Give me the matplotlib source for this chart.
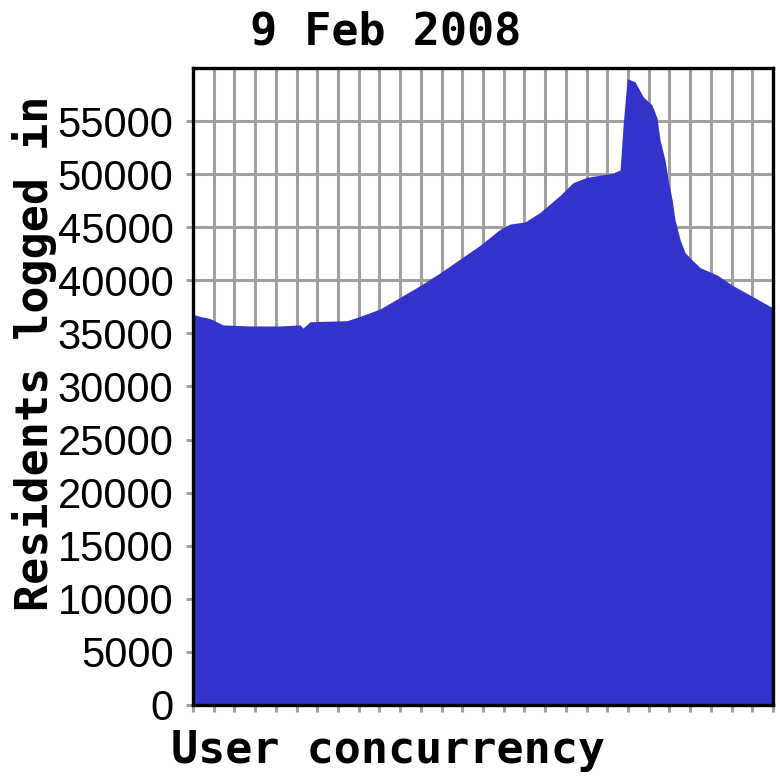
import matplotlib
matplotlib.use("Agg")
import matplotlib.pyplot as plt

# sample positions along the (unlabelled) x axis, one unit per grid column
slots = [0.0, 0.34, 0.82, 1.45, 2.75, 4.20, 5.17, 5.31, 5.65, 7.44, 8.06,
         9.03, 10.00, 10.96, 11.93, 12.89, 13.86, 14.82, 15.31, 16.03, 16.76,
         17.72, 18.35, 19.02, 20.28, 20.62, 20.76, 20.96, 21.34, 21.73, 22.16,
         22.40, 22.55, 22.79, 22.94, 23.13, 23.27, 23.52, 23.76, 24.00, 24.48,
         25.30, 26.07, 26.90, 27.72, 28.0]
residents = [36800, 36600, 36400, 35800, 35700, 35700, 35800, 35500, 36100,
             36200, 36600, 37300, 38400, 39500, 40700, 42000, 43300, 44800,
             45300, 45500, 46400, 48000, 49200, 49700, 50100, 50400, 54500,
             59000, 58700, 57300, 56500, 55300, 53200, 51300, 49400, 47600,
             45700, 43800, 42600, 42100, 41200, 40500, 39500, 38600, 37700,
             37400]

y_ticks = list(range(0, 60000, 5000))
x_ticks = list(range(0, 29))

mono = ["DejaVu Sans Mono"]
sans = ["Liberation Sans", "DejaVu Sans"]

fig = plt.figure(figsize=(7.8, 7.8), dpi=100)
ax = fig.add_axes([0.2474, 0.0962, 0.7436, 0.8166])

ax.fill_between(slots, residents, 0, color="#3333cc", linewidth=0)

ax.set_xlim(0, 28)
ax.set_ylim(0, 60000)
ax.set_xticks(x_ticks)
ax.set_xticklabels([])
ax.set_yticks(y_ticks)
ax.set_yticklabels([str(v) for v in y_ticks], fontfamily=sans, fontsize=30)

ax.set_axisbelow(True)
ax.grid(True, color="#a0a0a0", linewidth=2.2)
ax.tick_params(axis="both", color="#a0a0a0", width=2.2, length=5)
ax.tick_params(axis="y", pad=9)

for sp in ax.spines.values():
    sp.set_linewidth(2.4)
    sp.set_color("black")

fig.text(0.495, 0.959, "9 Feb 2008", ha="center", va="center",
         fontfamily=mono, fontweight="bold", fontsize=32.5)
fig.text(0.497, 0.022, "User concurrency", ha="center", va="baseline",
         fontfamily=mono, fontweight="bold", fontsize=32.5)
fig.text(0.044, 0.547, "Residents logged in", ha="center", va="center",
         rotation=90, fontfamily=mono, fontweight="bold", fontsize=32.5)

fig.savefig("out.png", dpi=100)
